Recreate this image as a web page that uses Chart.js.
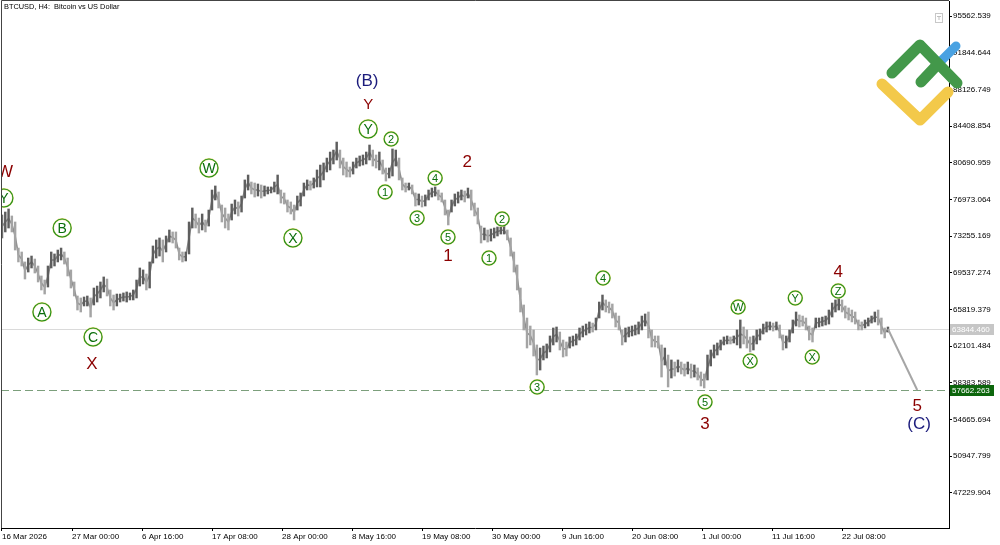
<!DOCTYPE html>
<html><head><meta charset="utf-8">
<script src="https://cdn.jsdelivr.net/npm/chart.js@4/dist/chart.umd.min.js"></script>
<style>html,body{margin:0;padding:0;background:#fff;overflow:hidden}canvas{display:block}</style>
</head><body>
<canvas id="c" width="1000" height="545"></canvas>
<script>
// ---------- DATA ----------
const chartTitle = 'BTCUSD, H4:  Bitcoin vs US Dollar';
// bars: one every 12 hours, time measured in hours from 16 Mar 2026 00:00
const barStartHour = 8;
const barStepHours = 12;
const barHigh = [
75400,75700,76010,75300,74690,72050,71650,70640,71040,71240,
70940,70230,69220,68810,70230,71650,71450,71850,72050,71650,
71040,69830,68610,67190,66990,67090,67190,66990,68000,68200,
68610,69120,68910,67800,67290,67390,67390,67500,67600,67500,
67800,68810,70030,69830,69420,70640,72260,72870,73070,72870,
73270,73880,73680,73680,72050,71650,71650,74690,76110,75500,
75090,75500,74890,75900,77930,78340,77730,76410,76110,75500,
76510,76920,76720,77320,78950,79450,78740,78640,78540,78440,
78340,78240,78240,78740,79450,77930,77630,76920,76720,76410,
77320,77630,78640,78950,78840,79150,79960,80460,80670,81170,
81780,81980,82790,81980,81170,80770,80260,80770,81170,81380,
81480,81780,82490,81980,81480,81780,80970,80160,80160,82090,
81980,81170,79150,78640,78640,78440,77630,77530,77320,77430,
77930,78130,78240,77930,77630,76920,75900,76920,77530,77730,
77930,77830,78130,77930,76610,76110,74280,74080,73880,73980,
74080,74180,74180,74280,73880,73070,71650,70330,68000,66280,
64960,64150,63750,62230,61920,62120,62330,63140,63950,64050,
63540,62730,62530,63040,63140,63340,63950,64150,64350,64560,
64450,64960,66580,67290,66790,66580,66380,65470,65160,63750,
63950,64050,64150,64250,64560,65160,65370,65570,63750,63140,
63140,62230,61920,61210,60710,60500,60710,60500,60300,60500,
60300,60200,59900,59490,59290,61210,61720,62230,62430,62730,
63040,63140,63040,63140,63750,64760,64050,63750,63040,63140,
63750,63850,64350,64560,64560,64450,64560,64250,63240,63140,
63750,64760,65570,65270,65160,64960,64150,63950,64960,64960,
65060,65160,65770,66480,66790,66990,66790,66180,65980,65770,
65570,64760,64560,64760,64960,65160,65570,65770,64960,63950,
64050];
const barLow = [
73070,73680,74080,73680,71850,70640,70230,68910,69620,70030,
69520,68610,67800,67390,68100,70030,70230,70640,70840,70430,
69220,68000,67190,65770,65570,66180,66180,65060,66280,66580,
66990,67600,67190,66180,65770,66180,66580,66680,66580,66790,
66790,66990,68200,68410,67800,68000,70530,71040,71240,70640,
71650,72660,72560,72050,70840,70640,70740,71450,74080,74080,
73570,73880,73680,74280,75900,76920,76110,74690,74080,73880,
74890,75500,75300,75700,77120,77930,77530,77220,77320,77120,
77320,77530,77630,77730,77530,76610,76510,75700,75500,74890,
75900,76310,77320,77930,77930,78130,78240,78240,78950,79760,
79960,80570,80970,80160,79450,79250,79250,79550,80160,80360,
80460,80570,80970,80360,80160,79960,79550,78840,79150,79350,
80360,78950,77930,77730,77930,77530,76310,76410,76210,76310,
76920,77220,77320,76920,76720,75400,74390,75700,76310,76610,
76920,76720,77120,75900,75300,74490,72560,72870,72660,72760,
73070,73270,73470,73470,72870,71240,69620,67800,65570,63750,
61920,62230,61110,59190,59690,60710,60910,61520,62230,62530,
61720,61010,61110,61920,62120,62230,62730,63040,63240,63440,
63540,63750,64960,65770,65570,65470,64960,64050,63750,62230,
62530,63040,63140,63240,63340,63750,64150,62940,62020,62020,
61920,58980,60200,57970,58880,59080,59490,59290,59080,59290,
58880,58980,58680,58070,57870,58680,60100,60910,61210,61720,
62230,62330,62330,62430,62230,61920,62330,61920,61520,61720,
62330,62730,63340,63540,63750,63640,63750,62940,61720,61920,
62530,63440,64150,64050,64150,63750,62730,62530,63950,64050,
64150,64250,64350,65060,65570,65770,65570,64960,64760,64560,
64350,63750,63750,63950,64150,64450,64560,64250,63340,62940,
63540];
const lastPrice = 63844.460;
const targetPrice = 57662.263;
const projectionHours = [3248, 3355];
const projectionPrices = [63844.460, 57662.263];

const yTickValues = [95562.539, 91844.644, 88126.749, 84408.854, 80690.959, 76973.064, 73255.169,
  69537.274, 65819.379, 62101.484, 58383.589, 54665.694, 50947.799, 47229.904];
const xTickHours = [8, 264, 520, 776, 1032, 1288, 1544, 1800, 2056, 2312, 2568, 2824, 3080];
const xTickLabels = ['16 Mar 2026', '27 Mar 00:00', '6 Apr 16:00', '17 Apr 08:00', '28 Apr 00:00',
  '8 May 16:00', '19 May 08:00', '30 May 00:00', '9 Jun 16:00', '20 Jun 08:00', '1 Jul 00:00',
  '11 Jul 16:00', '22 Jul 08:00'];

// Elliott wave labels
const waveText  = ['W','Y','B','A','C','X','W','X','(B)','Y','Y','2','1','3','4','5','2','1','2','1','3','4','5','3','W','X','Y','X','Z','4','5','(C)'];
const waveKind  = ['red','big','big','big','big','red','big','big','navy','redS','big','small','small','small','small','small','red','red','small','small','small','small','small','red','small','small','small','small','small','red','red','navy'];
const waveHour  = [19,15,228,154,341,337,765,1072,1343,1347,1347,1431,1409,1526,1592,1639,1709,1639,1837,1789,1965,2206,2579,2579,2700,2744,2909,2971,3066,3066,3355,3362];
const wavePrice = [79857,77121,74081,65569,63036,60401,80161,73067,89078,86646,84112,83099,77729,75094,79147,73169,80870,71345,74993,71041,57969,69014,56449,54321,66076,60604,66988,61009,67697,69724,56145,54321];

// ---------- CHART ----------
const FONT = '"Liberation Sans", Arial, sans-serif';
const xMin = 4.343, xMax = 3471.2;
const yMin = 43682, yMax = 97083;

const barTimes = barHigh.map((h, i) => barStartHour + i * barStepHours);
const bars = barHigh.map((h, i) => ({x: barTimes[i], y: [barLow[i], h]}));
const midLine = barHigh.map((h, i) => ({x: barTimes[i], y: (h + barLow[i]) / 2}));
const barColors = barHigh.map((h, i) => {
  if (i === 0) return '#707070';
  return (h + barLow[i]) >= (barHigh[i-1] + barLow[i-1]) ? '#5e5e5e' : '#a4a4a4';
});

const waveStyle = {
  red:  {font: '17px ' + FONT, color: '#8b0000'},
  redS: {font: '15px ' + FONT, color: '#8b0000'},
  navy: {font: '17px ' + FONT, color: '#1b1b7c'},
  big:  {font: '14px ' + FONT, color: '#0b6e0b', r: 9},
  small:{font: '11px ' + FONT, color: '#0b6e0b', r: 7}
};

const overlay = {
  id: 'overlay',
  beforeDatasetsDraw(chart) {
    const {ctx, chartArea: a, scales: {y}} = chart;
    ctx.save();
    let yy = Math.round(y.getPixelForValue(lastPrice)) + 0.5;
    ctx.strokeStyle = '#dadada'; ctx.lineWidth = 1;
    ctx.beginPath(); ctx.moveTo(a.left, yy); ctx.lineTo(a.right, yy); ctx.stroke();
    yy = Math.round(y.getPixelForValue(targetPrice)) + 0.5;
    ctx.setLineDash([8, 4]); ctx.strokeStyle = '#7c9f7c';
    ctx.beginPath(); ctx.moveTo(a.left, yy); ctx.lineTo(a.right, yy); ctx.stroke();
    ctx.restore();
  },
  afterDatasetsDraw(chart) {
    const {ctx, chartArea: a, scales: {x, y}} = chart;
    ctx.save();
    ctx.beginPath(); ctx.rect(a.left, a.top, a.right - a.left, a.bottom - a.top); ctx.clip();
    ctx.textAlign = 'center'; ctx.textBaseline = 'middle';
    waveText.forEach((t, i) => {
      const st = waveStyle[waveKind[i]];
      const px = x.getPixelForValue(waveHour[i]);
      const py = y.getPixelForValue(wavePrice[i]);
      if (st.r) {
        ctx.beginPath(); ctx.arc(px, py, st.r, 0, Math.PI * 2);
        ctx.fillStyle = '#ffffff'; ctx.fill();
        ctx.lineWidth = 1.8; ctx.strokeStyle = '#e9dc7a'; ctx.stroke();
        ctx.lineWidth = 1.1; ctx.strokeStyle = '#1f8f1f'; ctx.stroke();
      }
      ctx.font = st.font; ctx.fillStyle = st.color;
      ctx.fillText(t, px, py + 1);
    });
    ctx.restore();
  },
  afterDraw(chart) {
    const {ctx, chartArea: a, scales: {y}} = chart;
    ctx.save();
    // frame (left & top)
    ctx.strokeStyle = '#444'; ctx.lineWidth = 1;
    ctx.beginPath(); ctx.moveTo(a.left + 0.5, a.bottom); ctx.lineTo(a.left + 0.5, 0.5); ctx.lineTo(a.right, 0.5); ctx.stroke();
    // title
    ctx.font = '7.4px ' + FONT; ctx.fillStyle = '#000'; ctx.textBaseline = 'middle'; ctx.textAlign = 'left';
    ctx.fillText(chartTitle, 4, 7);
    // price boxes on axis
    const box = (v, bg, fg) => {
      const yy = Math.round(y.getPixelForValue(v));
      ctx.fillStyle = bg; ctx.fillRect(a.right + 1, yy - 5, 44, 11);
      ctx.fillStyle = fg; ctx.font = '8px ' + FONT; ctx.textBaseline = 'middle';
      ctx.fillText(v.toFixed(3), a.right + 3, yy + 0.5);
    };
    box(lastPrice, '#c6c6c6', '#ffffff');
    box(targetPrice, '#0c660c', '#ffffff');
    // small icon top-right
    ctx.strokeStyle = '#c8c8c8'; ctx.strokeRect(935.5, 13.5, 7, 9);
    ctx.fillStyle = '#c0c0c0'; ctx.fillRect(937, 16, 4, 1); ctx.fillRect(938.5, 16, 1, 4);
    // logo
    ctx.lineCap = 'round'; ctx.lineJoin = 'round';
    ctx.strokeStyle = '#f3c94a'; ctx.lineWidth = 11;
    ctx.beginPath(); ctx.moveTo(882, 84); ctx.lineTo(920, 120); ctx.lineTo(948, 92); ctx.stroke();
    ctx.strokeStyle = '#4aa2e2'; ctx.lineWidth = 9;
    ctx.beginPath(); ctx.moveTo(938, 64); ctx.lineTo(956, 46); ctx.stroke();
    ctx.strokeStyle = '#43984a'; ctx.lineWidth = 11;
    ctx.beginPath(); ctx.moveTo(892, 73); ctx.lineTo(920, 45); ctx.lineTo(957, 83); ctx.stroke();
    ctx.beginPath(); ctx.moveTo(921, 82); ctx.lineTo(938, 64); ctx.stroke();
    ctx.restore();
  }
};

new Chart(document.getElementById('c').getContext('2d'), {
  type: 'bar',
  data: {
    datasets: [
      {type: 'line', data: midLine, borderColor: '#8a8a8a', borderWidth: 1.6, pointRadius: 0, tension: 0, order: 3},
      {type: 'bar', data: bars, backgroundColor: barColors, barThickness: 1.8, borderWidth: 0, order: 2},
      {type: 'line', data: projectionHours.map((h, i) => ({x: h, y: projectionPrices[i]})),
       borderColor: '#a6a6a6', borderWidth: 2, pointRadius: 0, order: 1}
    ]
  },
  options: {
    responsive: false, animation: false, events: [],
    layout: {padding: {left: 1, top: 1, right: 0, bottom: 0}},
    plugins: {legend: {display: false}, tooltip: {enabled: false}, title: {display: false}},
    scales: {
      x: {
        type: 'linear', min: xMin, max: xMax, offset: false,
        grid: {offset: false, drawOnChartArea: false, drawTicks: true, tickLength: 3, color: '#000'},
        border: {display: true, color: '#000'},
        afterBuildTicks: s => { s.ticks = xTickHours.map(v => ({value: v})); },
        afterFit: s => { s.height = 17; s.paddingLeft = 0; s.paddingRight = 0; },
        ticks: {autoSkip: false, maxRotation: 0, minRotation: 0, align: 'start', padding: 1,
          color: '#000', font: {family: FONT, size: 8}, callback: (v, i) => xTickLabels[i]}
      },
      y: {
        type: 'linear', position: 'right', min: yMin, max: yMax,
        grid: {drawOnChartArea: false, tickLength: 3, color: '#000'},
        border: {display: true, color: '#000'},
        afterBuildTicks: s => { s.ticks = yTickValues.map(v => ({value: v})); },
        afterFit: s => { s.width = 51; s.paddingTop = 0; s.paddingBottom = 0; },
        ticks: {autoSkip: false, padding: 1, color: '#000', font: {family: FONT, size: 8},
          callback: v => Number(v).toFixed(3)}
      }
    }
  },
  plugins: [overlay]
});
</script>
</body></html>
